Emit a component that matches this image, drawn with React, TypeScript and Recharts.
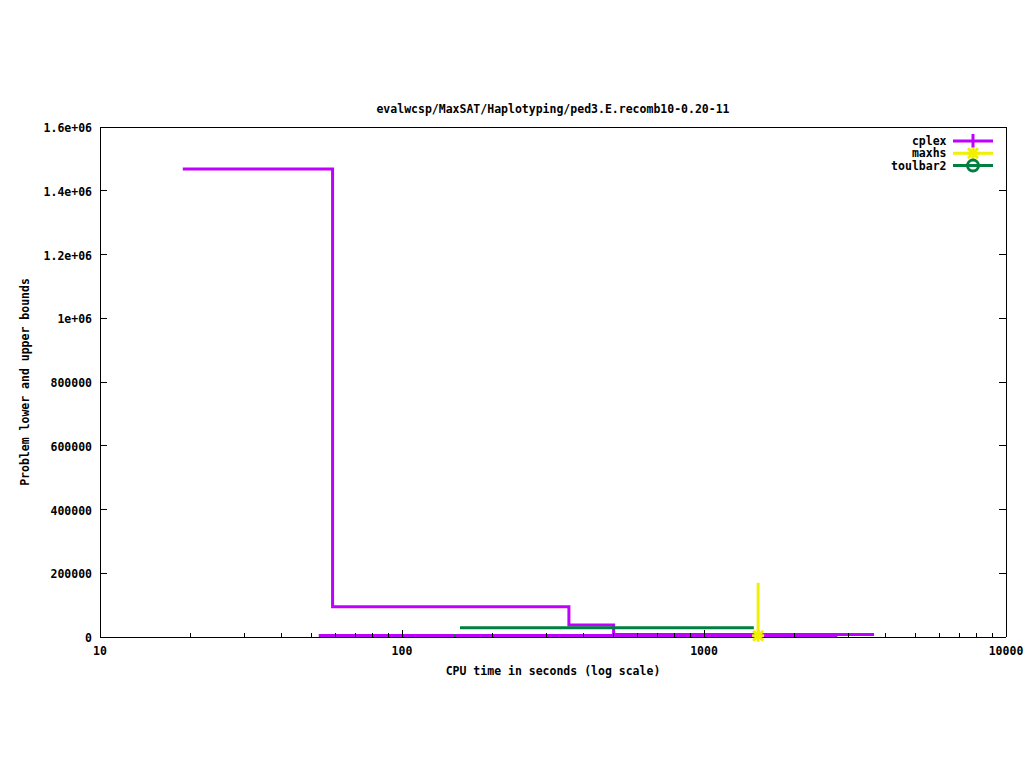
import React from "react";
import { ComposedChart, Line, XAxis, YAxis, Legend } from "recharts";

const title = "evalwcsp/MaxSAT/Haplotyping/ped3.E.recomb10-0.20-11";
const xTitle = "CPU time in seconds (log scale)";
const yTitle = "Problem lower and upper bounds";

// log axis: majors get a label, the rest are minor ticks
const xMajor = [10, 100, 1000, 10000];
const xTicks = [
  10, 20, 30, 40, 50, 60, 70, 80, 90,
  100, 200, 300, 400, 500, 600, 700, 800, 900,
  1000, 2000, 3000, 4000, 5000, 6000, 7000, 8000, 9000,
  10000,
];
const yTicks = [0, 200000, 400000, 600000, 800000, 1000000, 1200000, 1400000, 1600000];
const yTickLabels = ["0", "200000", "400000", "600000", "800000", "1e+06", "1.2e+06", "1.4e+06", "1.6e+06"];

const cplexUpperTime = [18.8, 58.9, 357, 502, 3656];
const cplexUpperValue = [1468000, 95000, 38000, 7500, 7500];
const cplexLowerTime = [53, 2765];
const cplexLowerValue = [4500, 4500];
const maxhsTime = [1511, 1511];
const maxhsValue = [170000, 4000];
const toulbarUpperTime = [155.6, 1462];
const toulbarUpperValue = [29000, 29000];
const toulbarLowerTime = [148.8, 150.6];
const toulbarLowerValue = [4500, 4500];

const PURPLE = "#c000ff";
const YELLOW = "#f0f000";
const GREEN = "#008040";

const zip = (t: number[], v: number[]) => t.map((x, i) => ({ t: x, v: v[i] }));

const font = { fontFamily: "'DejaVu Sans Mono', monospace", fontSize: 11.5, fontWeight: 700, fill: "#000" };

function Star({ cx, cy, color }: { cx: number; cy: number; color: string }) {
  const r = 6;
  return (
    <g stroke={color} strokeWidth={3}>
      <line x1={cx - r} y1={cy} x2={cx + r} y2={cy} />
      <line x1={cx} y1={cy - r} x2={cx} y2={cy + r} />
      <line x1={cx - r + 1} y1={cy - r + 1} x2={cx + r - 1} y2={cy + r - 1} />
      <line x1={cx - r + 1} y1={cy + r - 1} x2={cx + r - 1} y2={cy - r + 1} />
    </g>
  );
}

const BottomTick = ({ x, y, payload }: any) => {
  const major = xMajor.includes(payload.value);
  return (
    <g>
      <line x1={x} x2={x} y1={y} y2={y - (major ? 7 : 4)} stroke="#000" shapeRendering="crispEdges" />
      {major && (
        <text x={x} y={y + 14} textAnchor="middle" dominantBaseline="central" style={font}>
          {payload.value}
        </text>
      )}
    </g>
  );
};

const TopTick = ({ x, y, payload }: any) => {
  const major = xMajor.includes(payload.value);
  return <line x1={x} x2={x} y1={y} y2={y + (major ? 7 : 4)} stroke="#000" shapeRendering="crispEdges" />;
};

const LeftTick = ({ x, y, payload, index }: any) => (
  <g>
    <line x1={x} x2={x + 7} y1={y} y2={y} stroke="#000" shapeRendering="crispEdges" />
    <text x={x - 8} y={y + 1} textAnchor="end" dominantBaseline="central" style={font}>
      {yTickLabels[index] ?? payload.value}
    </text>
  </g>
);

const RightTick = ({ x, y }: any) => (
  <line x1={x} x2={x - 7} y1={y} y2={y} stroke="#000" shapeRendering="crispEdges" />
);

const legendRows = [
  { name: "cplex", color: PURPLE, mark: "plus" },
  { name: "maxhs", color: YELLOW, mark: "star" },
  { name: "toulbar2", color: GREEN, mark: "circle" },
];

function LegendBox() {
  return (
    <svg width={130} height={50}>
      {legendRows.map((r, i) => {
        const y = 13 + i * 12.3;
        return (
          <g key={r.name}>
            <text x={66.5} y={y} textAnchor="end" dominantBaseline="central" style={font}>
              {r.name}
            </text>
            <line x1={73} x2={113} y1={y} y2={y} stroke={r.color} strokeWidth={3} />
            {r.mark === "plus" && <line x1={93} x2={93} y1={y - 7} y2={y + 7} stroke={r.color} strokeWidth={3} />}
            {r.mark === "star" && <Star cx={93} cy={y} color={r.color} />}
            {r.mark === "circle" && <circle cx={93} cy={y} r={5.5} fill="none" stroke={r.color} strokeWidth={3} />}
          </g>
        );
      })}
    </svg>
  );
}

const axisLine = { stroke: "#000", shapeRendering: "crispEdges" };

export default function App() {
  const maxhsLast = maxhsTime.length - 1;
  return (
    <div style={{ position: "absolute", left: 0, top: 0, background: "#fff" }}>
      <ComposedChart width={1024} height={768} margin={{ top: 126, right: 17, bottom: 130, left: 99 }}>
        <XAxis
          xAxisId="bottom"
          dataKey="t"
          type="number"
          scale="log"
          domain={[10, 10000]}
          ticks={xTicks}
          interval={0}
          height={1}
          tickSize={0}
          tickMargin={0}
          tickLine={false}
          tick={<BottomTick />}
          axisLine={axisLine}
          label={{ value: xTitle, position: "bottom", offset: 29, style: font }}
        />
        <XAxis
          xAxisId="top"
          orientation="top"
          type="number"
          scale="log"
          domain={[10, 10000]}
          ticks={xTicks}
          interval={0}
          height={1}
          tickSize={0}
          tickMargin={0}
          tickLine={false}
          tick={<TopTick />}
          axisLine={axisLine}
          allowDataOverflow
          label={{ value: title, position: "top", offset: 13, style: font }}
        />
        <YAxis
          yAxisId="left"
          type="number"
          domain={[0, 1600000]}
          ticks={yTicks}
          interval={0}
          width={1}
          tickSize={0}
          tickMargin={0}
          tickLine={false}
          tick={<LeftTick />}
          axisLine={axisLine}
          label={({ viewBox }: any) => (
            <text
              x={25}
              y={viewBox.y + viewBox.height / 2}
              transform={`rotate(-90 25 ${viewBox.y + viewBox.height / 2})`}
              textAnchor="middle"
              dominantBaseline="central"
              style={font}
            >
              {yTitle}
            </text>
          )}
        />
        <YAxis
          yAxisId="right"
          orientation="right"
          type="number"
          domain={[0, 1600000]}
          ticks={yTicks}
          interval={0}
          width={1}
          tickSize={0}
          tickMargin={0}
          tickLine={false}
          tick={<RightTick />}
          axisLine={axisLine}
          allowDataOverflow
        />
        <Legend
          layout="horizontal"
          verticalAlign="middle"
          align="center"
          wrapperStyle={{ left: 880, top: 128, width: 130, height: 50 }}
          content={() => <LegendBox />}
        />
        <Line
          xAxisId="bottom"
          yAxisId="left"
          data={zip(cplexUpperTime, cplexUpperValue)}
          dataKey="v"
          name="cplex"
          type="stepAfter"
          stroke={PURPLE}
          strokeWidth={3}
          dot={false}
          activeDot={false}
          isAnimationActive={false}
        />
        <Line
          xAxisId="bottom"
          yAxisId="left"
          data={zip(cplexLowerTime, cplexLowerValue)}
          dataKey="v"
          name="cplex lower"
          type="stepAfter"
          stroke={PURPLE}
          strokeWidth={3}
          dot={false}
          activeDot={false}
          isAnimationActive={false}
        />
        <Line
          xAxisId="bottom"
          yAxisId="left"
          data={zip(maxhsTime, maxhsValue)}
          dataKey="v"
          name="maxhs"
          type="stepAfter"
          stroke={YELLOW}
          strokeWidth={3}
          dot={(p: any) =>
            p.index === maxhsLast ? (
              <Star key={p.index} cx={p.cx} cy={p.cy} color={YELLOW} />
            ) : (
              <g key={p.index} />
            )
          }
          activeDot={false}
          isAnimationActive={false}
        />
        <Line
          xAxisId="bottom"
          yAxisId="left"
          data={zip(toulbarUpperTime, toulbarUpperValue)}
          dataKey="v"
          name="toulbar2"
          type="stepAfter"
          stroke={GREEN}
          strokeWidth={3}
          dot={false}
          activeDot={false}
          isAnimationActive={false}
        />
        <Line
          xAxisId="bottom"
          yAxisId="left"
          data={zip(toulbarLowerTime, toulbarLowerValue)}
          dataKey="v"
          name="toulbar2 lower"
          type="stepAfter"
          stroke={GREEN}
          strokeWidth={3}
          dot={false}
          activeDot={false}
          isAnimationActive={false}
        />
      </ComposedChart>
    </div>
  );
}
